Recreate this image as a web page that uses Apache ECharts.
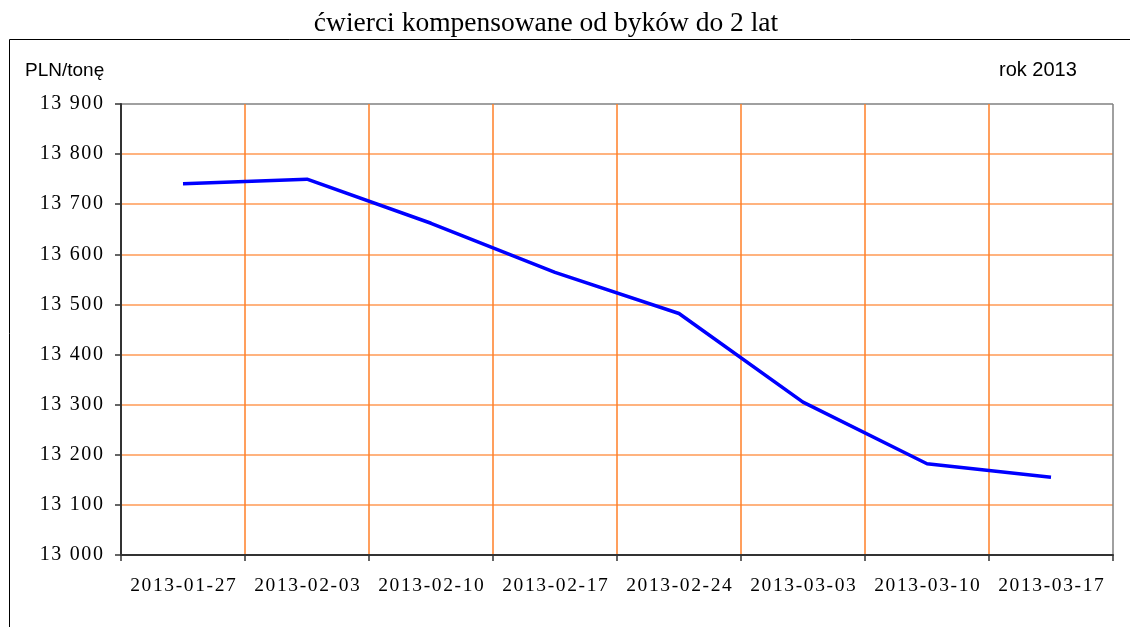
<!DOCTYPE html>
<html>
<head>
<meta charset="utf-8">
<script src="https://cdn.jsdelivr.net/npm/echarts@6/dist/echarts.min.js"></script>
<style>
html,body{margin:0;padding:0;background:#fff;}
#chart{width:1130px;height:627px;}
</style>
</head>
<body>
<div id="chart"></div>
<script>
var categories = ['2013-01-27','2013-02-03','2013-02-10','2013-02-17','2013-02-24','2013-03-03','2013-03-10','2013-03-17'];
var prices = [13741, 13750, 13662, 13564, 13482, 13305, 13182, 13155];
var yMin = 13000, yMax = 13900, yStep = 100;
var titleText = 'ćwierci kompensowane od byków do 2 lat';
var unitText = 'PLN/tonę';
var yearText = 'rok 2013';

function spaced(s) { return s.split('').join('\u200A'); }

var chart = echarts.init(document.getElementById('chart'));
var hColors = [];
for (var i = 0; i <= (yMax - yMin) / yStep; i++) hColors.push(i === 0 ? '#333333' : (i === (yMax - yMin) / yStep ? '#808080' : '#ff9a55'));
var vColors = [];
for (var j = 0; j <= categories.length; j++) vColors.push(j === 0 ? '#333333' : (j === categories.length ? '#808080' : '#ff7f27'));

chart.setOption({
  animation: false,
  backgroundColor: '#ffffff',
  title: {
    text: titleText,
    left: 541, top: 5, textAlign: 'center',
    textStyle: {fontFamily: 'Liberation Serif', fontSize: 27.5, fontWeight: 'normal', color: '#000'}
  },
  graphic: [
    {type: 'rect', shape: {x: 9.5, y: 39.5, width: 1130, height: 700}, style: {fill: 'none', stroke: '#000', lineWidth: 1}, silent: true, z: 0},
    {type: 'text', left: 25, top: 61, style: {text: unitText, font: '19px "Liberation Sans"', fill: '#000'}},
    {type: 'text', left: 999, top: 60, style: {text: yearText, font: '20px "Liberation Sans"', fill: '#000'}}
  ],
  grid: {left: 121, right: 17, top: 104, bottom: 72, containLabel: false},
  xAxis: {
    type: 'category',
    data: categories,
    boundaryGap: true,
    axisLine: {show: true, lineStyle: {color: '#333', width: 2}},
    axisTick: {show: true, alignWithLabel: false, length: 6, lineStyle: {color: '#333', width: 1.5}},
    axisLabel: {margin: 21, interval: 0, fontFamily: 'Liberation Serif', fontSize: 19.5, color: '#000',
      formatter: function (v) { return spaced(v); }},
    splitLine: {show: true, interval: 0, lineStyle: {color: vColors, width: 1.5}}
  },
  yAxis: {
    type: 'value',
    min: yMin, max: yMax, interval: yStep,
    axisLine: {show: true, lineStyle: {color: '#333', width: 2}},
    axisTick: {show: true, length: 6, lineStyle: {color: '#333', width: 1.5}},
    axisLabel: {margin: 18, fontFamily: 'Liberation Serif', fontSize: 20, color: '#000',
      formatter: function (v) { return spaced(String(v).replace(/\B(?=(\d{3})+(?!\d))/g, ' ')); }},
    splitLine: {show: true, lineStyle: {color: hColors, width: 1.5}}
  },
  series: [{
    type: 'line',
    data: prices,
    symbol: 'none',
    lineStyle: {color: '#0000ff', width: 3.5},
    z: 5
  }]
});
</script>
</body>
</html>
